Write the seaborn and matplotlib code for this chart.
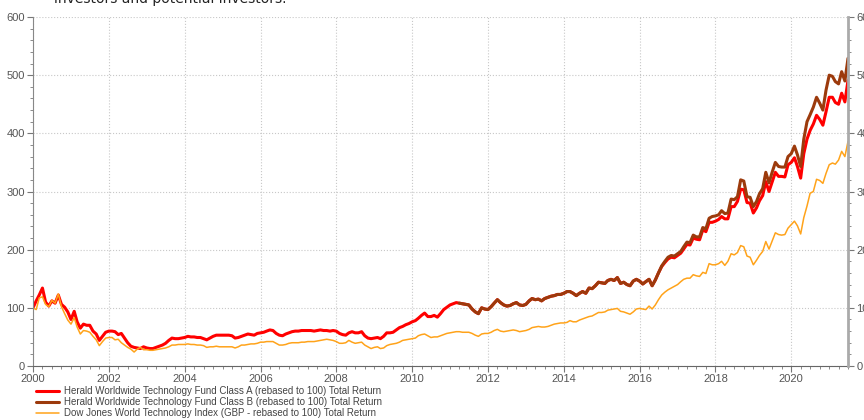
import pandas as pd
import seaborn as sns
import matplotlib.pyplot as plt
import matplotlib.dates as mdates
from matplotlib.ticker import MultipleLocator

# Data (monthly, Jan 2000 - Jul 2021, rebased to 100)
# =====================================================================
fund_a = [
    100, 112, 122, 134, 110, 103, 112, 108, 122, 106, 101, 93,   # 2000
    80, 94, 76, 65, 72, 70, 70, 60, 55, 44, 51, 58,              # 2001
    60, 60, 59, 54, 56, 48, 40, 34, 32, 31, 30, 33,              # 2002
    31, 30, 30, 32, 34, 36, 39, 44, 48, 47, 47, 48,              # 2003
    49, 51, 50, 50, 49, 49, 47, 45, 48, 51, 53, 53,              # 2004
    53, 53, 53, 52, 48, 49, 51, 53, 55, 54, 53, 56,              # 2005
    57, 58, 60, 62, 61, 56, 53, 52, 55, 57, 59, 60,              # 2006
    60, 61, 61, 61, 61, 60, 61, 62, 61, 61, 60, 61,              # 2007
    60, 56, 54, 53, 57, 59, 57, 57, 59, 52, 48, 47,              # 2008
    48, 49, 47, 51, 57, 57, 58, 62, 66, 68, 71, 73,              # 2009
    76, 78, 82, 87, 91, 85, 85, 87, 84, 90, 97, 101,             # 2010
    105, 107, 109, 108, 107, 106, 105, 98, 93, 90, 100, 98,      # 2011
    97, 102, 108, 114, 109, 105, 103, 104, 107, 109, 105, 104,   # 2012
    106, 112, 116, 114, 115, 112, 116, 118, 120, 121, 123, 123,  # 2013
    125, 128, 128, 125, 121, 125, 128, 125, 134, 133, 138, 144,  # 2014
    143, 142, 147, 149, 147, 152, 142, 144, 140, 138, 146, 149,  # 2015
    146, 141, 145, 149, 138, 148, 160, 171, 178, 184, 187, 186,  # 2016
    190, 194, 201, 209, 208, 220, 218, 217, 234, 231, 247, 247,  # 2017
    249, 252, 257, 253, 253, 274, 274, 283, 304, 303, 281, 280,  # 2018
    263, 272, 284, 293, 317, 300, 316, 333, 326, 326, 325, 346,  # 2019
    350, 358, 343, 323, 365, 390, 405, 416, 431, 424, 414, 437,  # 2020
    462, 462, 453, 450, 469, 454, 491,                           # 2021
]

# Class B launched April 2011
fund_b = [
    108, 107, 106, 105, 98, 93, 90, 100, 98,                     # 2011
    97, 102, 108, 114, 109, 105, 103, 104, 107, 109, 105, 104,   # 2012
    106, 112, 116, 114, 115, 112, 116, 118, 120, 121, 123, 123,  # 2013
    125, 128, 128, 125, 121, 125, 128, 125, 134, 133, 138, 144,  # 2014
    143, 142, 147, 149, 147, 152, 142, 144, 140, 138, 146, 149,  # 2015
    146, 141, 145, 149, 138, 148, 160, 172, 180, 187, 190, 189,  # 2016
    193, 197, 205, 213, 212, 225, 222, 222, 238, 236, 254, 257,  # 2017
    258, 260, 267, 262, 263, 287, 286, 291, 320, 318, 291, 290,  # 2018
    274, 283, 296, 305, 333, 315, 333, 350, 343, 342, 342, 360,  # 2019
    365, 378, 363, 343, 390, 420, 432, 445, 462, 452, 440, 474,  # 2020
    500, 498, 489, 485, 506, 490, 529,                           # 2021
]

index_dj = [
    100, 97, 117, 119, 106, 102, 113, 108, 124, 102, 90, 79,     # 2000
    72, 83, 67, 55, 61, 60, 58, 51, 45, 35, 42, 48,              # 2001
    49, 49, 45, 46, 40, 36, 32, 29, 24, 29, 32, 28,              # 2002
    28, 27, 27, 28, 29, 30, 31, 33, 36, 36, 37, 37,              # 2003
    37, 38, 37, 37, 36, 36, 35, 32, 33, 33, 34, 33,              # 2004
    33, 33, 33, 33, 31, 33, 36, 36, 37, 38, 38, 39,              # 2005
    41, 41, 42, 42, 42, 39, 36, 36, 37, 39, 40, 40,              # 2006
    40, 41, 41, 42, 42, 42, 43, 44, 45, 46, 45, 44,              # 2007
    42, 39, 39, 40, 44, 41, 39, 40, 41, 36, 33, 30,              # 2008
    32, 33, 30, 31, 35, 37, 38, 39, 41, 44, 45, 46,              # 2009
    47, 48, 52, 54, 55, 52, 49, 50, 50, 52, 54, 56,              # 2010
    57, 58, 59, 59, 58, 58, 58, 56, 53, 51, 55, 56,              # 2011
    56, 58, 61, 63, 60, 59, 60, 61, 62, 61, 59, 60,              # 2012
    61, 63, 66, 67, 68, 67, 67, 68, 70, 72, 73, 74,              # 2013
    74, 75, 78, 76, 76, 79, 81, 83, 85, 86, 89, 92,              # 2014
    92, 93, 96, 97, 98, 99, 94, 93, 91, 89, 93, 98,              # 2015
    99, 98, 97, 103, 98, 105, 114, 122, 127, 131, 134, 137,      # 2016
    140, 145, 149, 151, 151, 157, 155, 154, 161, 159, 176, 174,  # 2017
    174, 176, 180, 173, 180, 193, 191, 195, 207, 205, 189, 187,  # 2018
    174, 182, 190, 197, 214, 201, 215, 229, 226, 225, 226, 237,  # 2019
    243, 249, 241, 227, 255, 275, 297, 300, 321, 319, 314, 331,  # 2020
    346, 349, 347, 354, 369, 360, 386,                           # 2021
]

labels = [
    'Herald Worldwide Technology Fund Class A (rebased to 100) Total Return',
    'Herald Worldwide Technology Fund Class B (rebased to 100) Total Return',
    'Dow Jones World Technology Index (GBP - rebased to 100) Total Return',
]
colors = ['#ff0000', '#9c3a0c', '#ffa31a']
widths = [2.2, 2.2, 1.1]

dates = pd.date_range('2000-01-01', periods=len(fund_a), freq='MS')
df_a = pd.DataFrame({'date': dates, 'value': fund_a})
df_b = pd.DataFrame({'date': dates[len(fund_a) - len(fund_b):], 'value': fund_b})
df_i = pd.DataFrame({'date': dates, 'value': index_dj})

# Data Visualization
# =====================================================================
sns.set_style('white')
plt.rcParams['font.family'] = ['Liberation Sans', 'DejaVu Sans']

fig = plt.figure(figsize=(8.64, 4.2), dpi=100)
ax = fig.add_axes([33 / 864, 1 - 366 / 420, (848 - 33) / 864, (366 - 17) / 420])

for d, lab, c, w in zip([df_a, df_b, df_i], labels, colors, widths):
    sns.lineplot(data=d, x='date', y='value', ax=ax, color=c, linewidth=w, label=lab)

ax.set_xlim(pd.Timestamp('2000-01-01'), pd.Timestamp('2021-07-01'))
ax.set_ylim(0, 600)
ax.set_xlabel('')
ax.set_ylabel('')

ax.xaxis.set_major_locator(mdates.YearLocator(2))
ax.xaxis.set_major_formatter(mdates.DateFormatter('%Y'))
ax.xaxis.set_minor_locator(mdates.MonthLocator(bymonth=[1, 4, 7, 10]))
ax.yaxis.set_major_locator(MultipleLocator(100))
ax.yaxis.set_minor_locator(MultipleLocator(20))

ax.grid(True, which='major', linestyle=':', color='#c8c8c8', linewidth=0.8)
ax.tick_params(axis='both', which='major', length=4, width=0.8, color='#777777',
               labelsize=8, labelcolor='#555555', pad=2)
ax.tick_params(axis='both', which='minor', length=2, width=0.6, color='#777777')
ax.tick_params(axis='x', which='both', bottom=True)
ax.tick_params(axis='y', which='both', left=True)

for s in ['top', 'right']:
    ax.spines[s].set_visible(False)
ax.spines['left'].set_color('#888888')
ax.spines['left'].set_linewidth(0.8)
ax.spines['bottom'].set_color('#666666')
ax.spines['bottom'].set_linewidth(0.8)

# Right axis (cropped at the figure edge)
ax2 = ax.twinx()
ax2.set_ylim(0, 600)
ax2.yaxis.set_major_locator(MultipleLocator(100))
ax2.yaxis.set_minor_locator(MultipleLocator(20))
ax2.tick_params(axis='y', which='major', length=4, width=0.8, color='#777777',
                labelsize=8, labelcolor='#555555', pad=2, right=True)
ax2.tick_params(axis='y', which='minor', length=2, width=0.6, color='#777777', right=True)
for s in ['top', 'left', 'bottom']:
    ax2.spines[s].set_visible(False)
ax2.spines['right'].set_color('#aaaaaa')
ax2.spines['right'].set_linewidth(2)

# Legend below the chart
handles, labs = ax.get_legend_handles_labels()
ax.legend_.remove()
fig.legend(handles, labs, loc='upper left', bbox_to_anchor=(36 / 864, 1 - 386 / 420),
           frameon=False, fontsize=7, labelcolor='#444444', handlelength=2.4,
           handletextpad=0.5, labelspacing=0.12, borderpad=0, borderaxespad=0)

# Cropped header text at the top
fig.text(54 / 864, 1 - 3 / 420, 'investors and potential investors.', fontsize=10,
         color='#222222', ha='left', va='baseline', family=['DejaVu Sans'])

plt.savefig('out.png', dpi=100)
